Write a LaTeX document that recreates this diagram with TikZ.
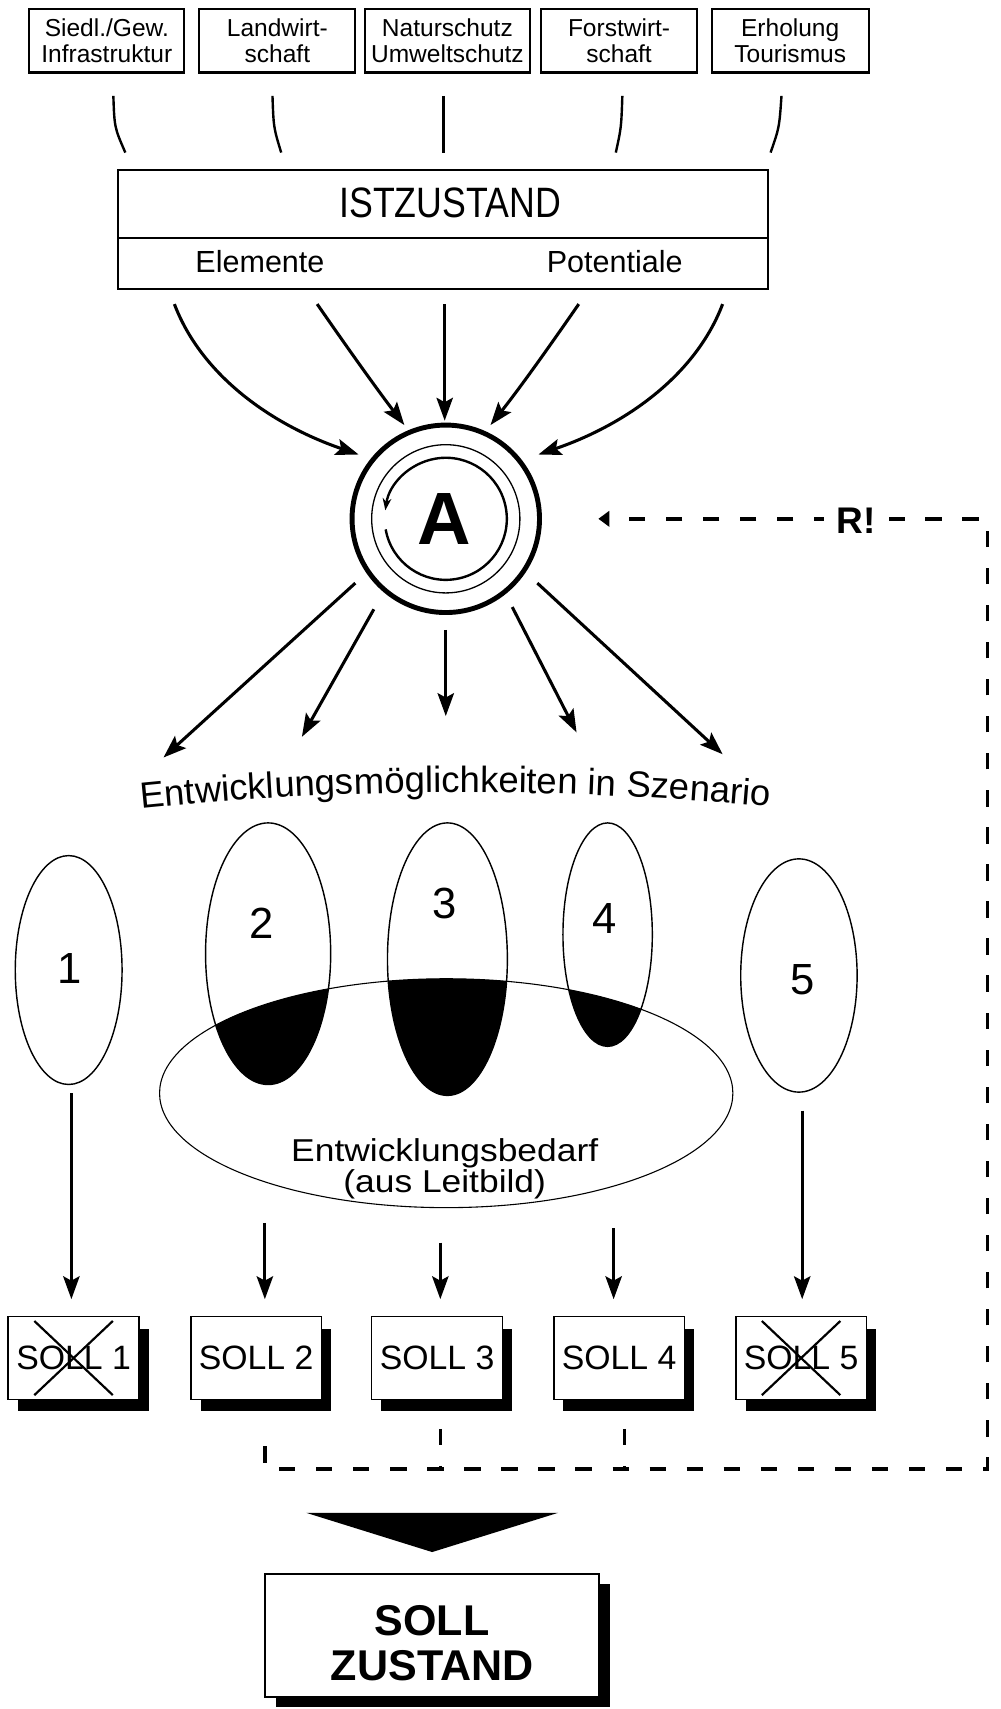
\documentclass[tikz,border=0pt]{standalone}
\usepackage{fontspec}
\setmainfont{Liberation Sans}
\newfontfamily\condfont[FakeStretch=0.84]{Liberation Sans}
\newfontfamily\widefont[FakeStretch=1.12]{Liberation Sans}
\usetikzlibrary{arrows.meta,decorations.text,shadows}

\begin{document}
\begin{tikzpicture}[x=1pt,y=-1pt,
  every node/.style={inner sep=0pt, outer sep=0pt},
  topbox/.style={draw, line width=1.9pt, minimum height=58pt, align=center,
    font=\fontsize{22.5}{24}\selectfont},
  feeder/.style={line width=2.2pt},
  ray/.style={line width=2.8pt, -{Stealth[length=21pt,width=15pt,inset=4pt]}},
  oval/.style={line width=1.3pt},
  digit/.style={font=\fontsize{40}{40}\selectfont},
  sollbox/.style={draw, line width=1.5pt, fill=white, minimum width=120pt,
    minimum height=76pt, font=\fontsize{31}{31}\selectfont,
    drop shadow={shadow xshift=9pt, shadow yshift=-11pt, fill=black, opacity=1}},
  cross/.style={line width=2pt},
  feedback/.style={line width=3.2pt, dash pattern=on 15pt off 19pt}
]
% canvas
\fill[white] (0,0) rectangle (918,1568);
\useasboundingbox (0,0) rectangle (918,1568);

% sectors
\node[topbox, minimum width=142pt] (t1) at (98,37.5)    {Siedl./Gew.\\Infrastruktur};
\node[topbox, minimum width=143pt] (t2) at (254.5,37.5) {Landwirt-\\schaft};
\node[topbox, minimum width=152pt] (t3) at (410.5,37.5) {Naturschutz\\Umweltschutz};
\node[topbox, minimum width=143pt] (t4) at (568,37.5)   {Forstwirt-\\schaft};
\node[topbox, minimum width=144pt] (t5) at (725,37.5)   {Erholung\\Tourismus};

% feeder strokes
\coordinate (f1a) at (104,88);  \coordinate (f1b) at (115,140);
\coordinate (f2a) at (250,88);  \coordinate (f2b) at (258,140);
\coordinate (f3a) at (407,88);  \coordinate (f3b) at (407,140);
\coordinate (f4a) at (571,88);  \coordinate (f4b) at (565,140);
\coordinate (f5a) at (717,88);  \coordinate (f5b) at (707,140);
\draw[feeder] (f1a) .. controls (105,117) .. (f1b);
\draw[feeder] (f2a) .. controls (251,117) .. (f2b);
\draw[feeder] (f3a) -- (f3b);
\draw[feeder] (f4a) .. controls (570,117) .. (f4b);
\draw[feeder] (f5a) .. controls (715,117) .. (f5b);

% current state
\node[draw, line width=1.9pt, minimum width=597pt, minimum height=62pt] (ist) at (406.5,187) {};
\node[draw, line width=1.9pt, minimum width=597pt, minimum height=47pt] (istsub) at (406.5,241.5) {};
\node[anchor=base, font=\condfont\fontsize{39}{39}\selectfont] (istlab) at (413,200) {ISTZUSTAND};
\node[anchor=base, font=\fontsize{28}{28}\selectfont] (elem) at (238.5,250) {Elemente};
\node[anchor=base, font=\fontsize{28}{28}\selectfont] (pot) at (564,250) {Potentiale};

% analysis
\node[circle, draw, line width=4.5pt, minimum size=172pt] (A) at (409,476) {};
\draw[line width=1.2pt] (A.center) circle[radius=68pt];
\draw[line width=2.2pt, -{Stealth[length=11pt,width=8pt]}]
  ([shift={(190:56pt)}]A.center) arc[start angle=190, end angle=532, radius=56pt];
\node[font=\bfseries\fontsize{68}{68}\selectfont] (Alab) at (408,476) {A};

% inputs into the analysis
\coordinate (i1) at (160,279); \coordinate (j1) at (329,417);
\coordinate (i2) at (291,279); \coordinate (j2) at (371,390);
\coordinate (i3) at (408,279); \coordinate (j3) at (408,386);
\coordinate (i4) at (531,279); \coordinate (j4) at (450,390);
\coordinate (i5) at (663,279); \coordinate (j5) at (494,417);
\draw[ray] (i1) .. controls (185,345) and (250,390) .. (j1);
\draw[ray] (i2) .. controls (318,318) and (345,356) .. (j2);
\draw[ray] (i3) -- (j3);
\draw[ray] (i4) .. controls (504,318) and (477,356) .. (j4);
\draw[ray] (i5) .. controls (638,345) and (573,390) .. (j5);

% outputs of the analysis
\coordinate (o1) at (326,535); \coordinate (p1) at (150,695);
\coordinate (o2) at (343,559); \coordinate (p2) at (277,676);
\coordinate (o3) at (409,578); \coordinate (p3) at (409,657);
\coordinate (o4) at (470,557); \coordinate (p4) at (529,672);
\coordinate (o5) at (493,535); \coordinate (p5) at (663,692);
\foreach \k in {1,...,5} \draw[ray] (o\k) -- (p\k);

% curved caption
\path[decorate, decoration={text along path, text align=center,
  text={|\fontsize{33.5}{33.5}\selectfont|Entwicklungsmöglichkeiten in Szenario}}]
  (118,743) .. controls (318,722) and (515,722) .. (718,741);

% scenario ovals and the demand overlap
\begin{scope}
  \clip (409.4,1003) ellipse[x radius=263pt, y radius=105pt];
  \fill (246,875) ellipse[x radius=57.4pt, y radius=120pt];
  \fill (410.5,880) ellipse[x radius=55pt, y radius=125pt];
  \fill (557.5,857.5) ellipse[x radius=41pt, y radius=102.5pt];
\end{scope}
\draw[line width=1pt] (409.4,1003) ellipse[x radius=263pt, y radius=105pt];
\draw[oval] (63,890) ellipse[x radius=49pt, y radius=105pt];
\draw[oval] (246,875) ellipse[x radius=57.4pt, y radius=120pt];
\draw[oval] (410.5,880) ellipse[x radius=55pt, y radius=125pt];
\draw[oval] (557.5,857.5) ellipse[x radius=41pt, y radius=102.5pt];
\draw[oval] (733,895) ellipse[x radius=53.4pt, y radius=107pt];

\node[digit] (n1) at (64,889) {1};
\node[digit] (n2) at (240,847) {2};
\node[digit] (n3) at (408,829) {3};
\node[digit] (n4) at (555,843) {4};
\node[digit] (n5) at (736,899) {5};

\node[anchor=base, font=\widefont\fontsize{29}{29}\selectfont] (bed1) at (408,1066) {Entwicklungsbedarf};
\node[anchor=base, font=\widefont\fontsize{29}{29}\selectfont] (bed2) at (408,1094) {(aus Leitbild)};

% target variants
\node[sollbox] (s1) at (67.5,1246) {SOLL 1};
\node[sollbox] (s2) at (235,1246) {SOLL 2};
\node[sollbox] (s3) at (401,1246) {SOLL 3};
\node[sollbox] (s4) at (568,1246) {SOLL 4};
\node[sollbox] (s5) at (735,1246) {SOLL 5};
\draw[cross] ([shift={(-36pt,34pt)}]s1.center) -- ([shift={(36pt,-34pt)}]s1.center);
\draw[cross] ([shift={(36pt,34pt)}]s1.center) -- ([shift={(-36pt,-34pt)}]s1.center);
\draw[cross] ([shift={(-36pt,34pt)}]s5.center) -- ([shift={(36pt,-34pt)}]s5.center);
\draw[cross] ([shift={(36pt,34pt)}]s5.center) -- ([shift={(-36pt,-34pt)}]s5.center);

\coordinate (q1) at (65.5,1003); \coordinate (r1) at (65.5,1192);
\coordinate (q2) at (243,1122);  \coordinate (r2) at (243,1192);
\coordinate (q3) at (404,1140);  \coordinate (r3) at (404,1192);
\coordinate (q4) at (563,1127);  \coordinate (r4) at (563,1192);
\coordinate (q5) at (736,1019);  \coordinate (r5) at (736,1192);
\foreach \k in {1,...,5} \draw[ray] (q\k) -- (r\k);

% feedback loop
\coordinate (d2) at (243,1327);
\coordinate (d3) at (404,1311);
\coordinate (d4) at (573,1311);
\coordinate (c2) at (243,1348);
\coordinate (c3) at (404,1348);
\coordinate (c4) at (573,1348);
\coordinate (cr) at (906,1348);
\coordinate (ct) at (906,476);
\coordinate (ce) at (549,476);
\draw[feedback, -{Triangle[length=10pt,width=14pt]}] (d2) -- (c2) -- (cr) -- (ct) -- (ce);
\draw[feedback] (d3) -- (c3);
\draw[feedback] (d4) -- (c4);
\node[fill=white, inner xsep=12pt, inner ysep=4pt, font=\bfseries\fontsize{34}{34}\selectfont] (R) at (785.5,478) {R!};

% result
\coordinate (w1) at (281,1388);
\coordinate (w2) at (512,1388);
\coordinate (w3) at (396.5,1424);
\fill (w1) -- (w2) -- (w3) -- cycle;
\node[draw, line width=1.8pt, fill=white, minimum width=307pt, minimum height=113pt,
  drop shadow={shadow xshift=10pt, shadow yshift=-9pt, fill=black, opacity=1}] (soll) at (396.5,1500.5) {};
\node[anchor=base, font=\bfseries\fontsize{39.5}{39.5}\selectfont] (sl1) at (396.5,1501) {SOLL};
\node[anchor=base, font=\bfseries\fontsize{39.5}{39.5}\selectfont] (sl2) at (396.5,1542) {ZUSTAND};
\end{tikzpicture}
\end{document}
